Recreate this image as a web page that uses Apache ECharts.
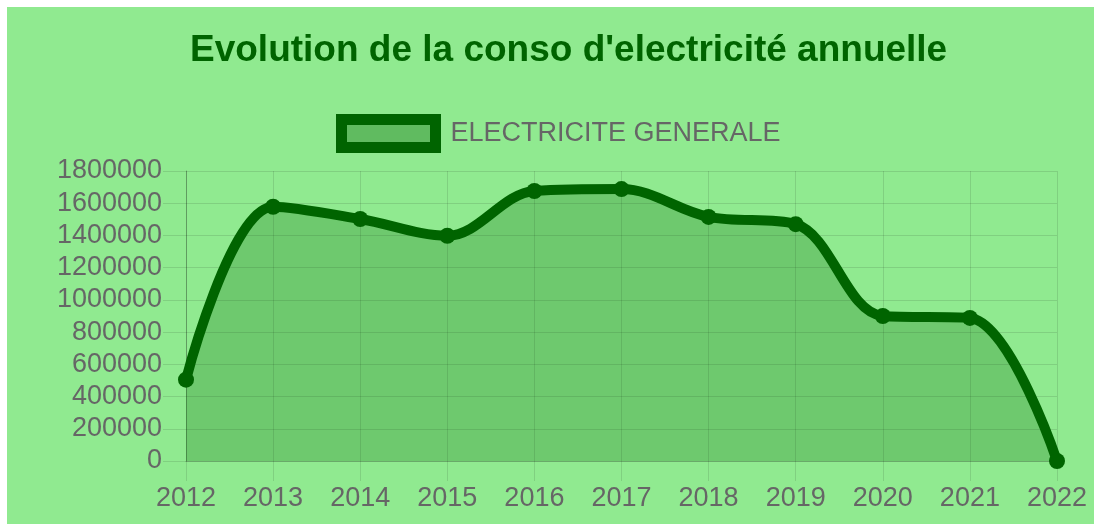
<!DOCTYPE html>
<html>
<head>
<meta charset="utf-8">
<script src="https://cdn.jsdelivr.net/npm/echarts@6/dist/echarts.min.js"></script>
<style>
  html, body { margin: 0; padding: 0; background: #ffffff; }
  #chart { position: absolute; left: 7px; top: 7px; width: 1087px; height: 517px; }
</style>
</head>
<body>
<div id="chart"></div>
<script>
// Yearly electricity consumption
const years = ['2012', '2013', '2014', '2015', '2016', '2017', '2018', '2019', '2020', '2021', '2022'];
const consumption = [505000, 1578000, 1502000, 1398000, 1676000, 1688000, 1515000, 1470000, 900000, 888000, 0];
const seriesName = 'ELECTRICITE GENERALE';
const titleText = "Evolution de la conso d'electricité annuelle";

const font = 'Liberation Sans, Arial, Helvetica, sans-serif';
const dark = '#006400';
const grey = '#666666';
const fill = 'rgba(0,90,0,0.33)';
const gridLine = 'rgba(0,0,0,0.11)';

const chart = echarts.init(document.getElementById('chart'), null, { renderer: 'canvas' });
chart.setOption({
  backgroundColor: '#90EA90',
  animation: false,
  title: {
    text: titleText,
    left: 178,
    top: 20,
    textStyle: { color: dark, fontSize: 37, fontWeight: 'bold', fontFamily: font }
  },
  legend: {
    data: [seriesName],
    left: 329,
    top: 107,
    padding: 0,
    icon: 'rect',
    itemWidth: 94,
    itemHeight: 28,
    itemStyle: { color: fill, borderColor: dark, borderWidth: 11 },
    textStyle: { color: grey, fontSize: 27, fontFamily: font, padding: [0, 0, 0, 10] }
  },
  grid: { left: 179, right: 37, top: 164, bottom: 63, containLabel: false },
  xAxis: {
    type: 'category',
    data: years,
    boundaryGap: false,
    axisLine: { show: true, lineStyle: { color: 'rgba(0,0,0,0.18)', width: 1 } },
    axisTick: { show: true, length: 20, lineStyle: { color: gridLine } },
    axisLabel: { color: grey, fontSize: 27, fontFamily: font, margin: 24 },
    splitLine: { show: true, lineStyle: { color: gridLine } }
  },
  yAxis: {
    type: 'value',
    min: 0,
    max: 1800000,
    interval: 200000,
    axisLine: { show: true, lineStyle: { color: 'rgba(0,0,0,0.25)', width: 1 } },
    axisTick: { show: true, length: 23, lineStyle: { color: gridLine } },
    axisLabel: { color: grey, fontSize: 27, fontFamily: font, margin: 24, formatter: v => String(v) },
    splitLine: { show: true, lineStyle: { color: gridLine } }
  },
  series: [{
    name: seriesName,
    type: 'line',
    data: consumption,
    smooth: 0.35,
    symbol: 'circle',
    symbolSize: 16,
    lineStyle: { color: dark, width: 10 },
    itemStyle: { color: dark },
    areaStyle: { color: fill }
  }]
});
</script>
</body>
</html>
